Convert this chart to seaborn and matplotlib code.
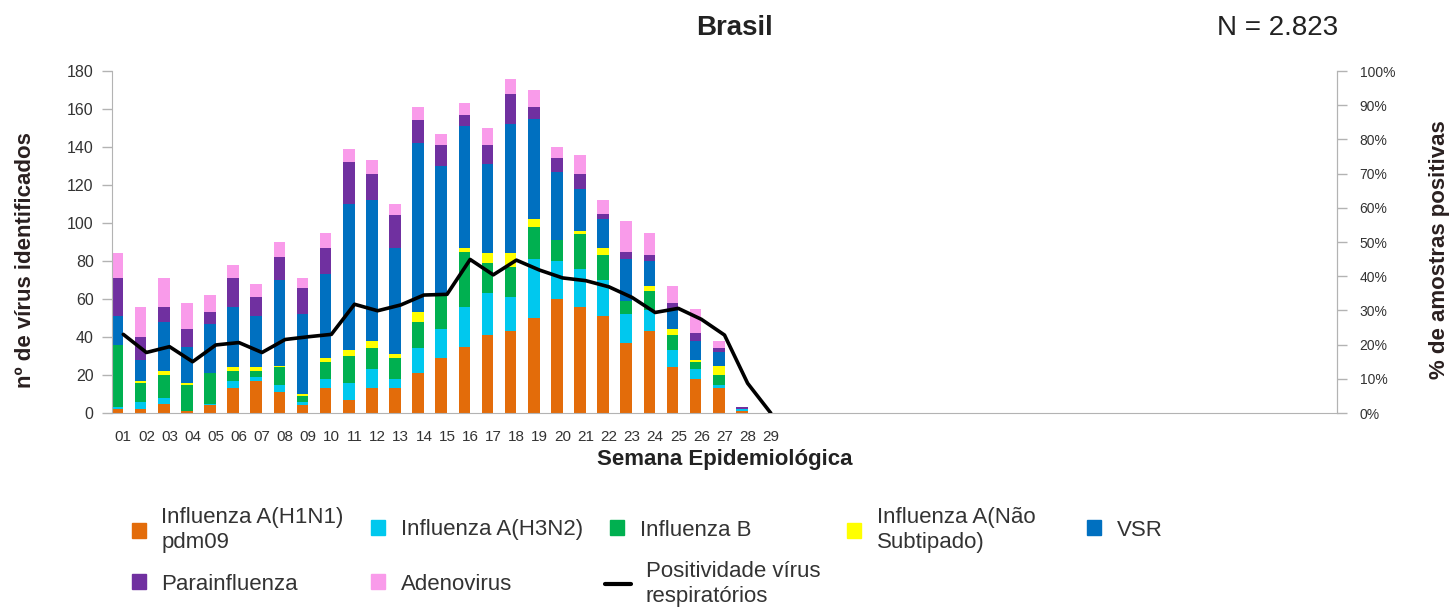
import numpy as np
import pandas as pd
import matplotlib
matplotlib.use("Agg")
import matplotlib.pyplot as plt
import seaborn as sns
from matplotlib.patches import Patch
from matplotlib.lines import Line2D
from matplotlib.ticker import FuncFormatter

# --- data (weeks 01-28 have bars, line runs to 29) ---
week_labels = ["01", "02", "03", "04", "05", "06", "07", "08", "09", "10",
               "11", "12", "13", "14", "15", "16", "17", "18", "19", "20",
               "21", "22", "23", "24", "25", "26", "27", "28", "29"]
n_weeks = 53

h1n1 = [2, 2, 5, 1, 4, 13, 17, 11, 4, 13, 7, 13, 13, 21, 29, 35, 41, 43, 50, 60,
        56, 51, 37, 43, 24, 18, 13, 1]
h3n2 = [1, 4, 3, 0, 1, 4, 2, 4, 2, 5, 9, 10, 5, 13, 15, 21, 22, 18, 31, 20,
        20, 19, 15, 11, 9, 5, 2, 1]
flu_b = [33, 10, 12, 14, 16, 5, 3, 9, 3, 9, 14, 11, 11, 14, 18, 29, 16, 16, 17, 11,
         18, 13, 7, 10, 8, 4, 5, 0]
nao_sub = [0, 1, 2, 1, 0, 2, 2, 1, 1, 2, 3, 4, 2, 5, 0, 2, 5, 7, 4, 0,
           2, 4, 0, 3, 3, 1, 5, 0]
vsr = [15, 11, 26, 19, 26, 32, 27, 45, 42, 44, 77, 74, 56, 89, 68, 64, 47, 68, 53, 36,
       22, 15, 22, 13, 10, 10, 7, 0]
para = [20, 12, 8, 9, 6, 15, 10, 12, 14, 14, 22, 14, 17, 12, 11, 6, 10, 16, 6, 7,
        8, 3, 4, 3, 4, 4, 2, 1]
adeno = [13, 16, 15, 14, 9, 7, 7, 8, 5, 8, 7, 7, 6, 7, 6, 6, 9, 8, 9, 6,
         10, 7, 16, 12, 9, 13, 4, 0]

positividade = [23, 17.7, 19.4, 15, 19.9, 20.6, 17.7, 21.5, 22.3, 23,
                31.8, 29.9, 31.6, 34.5, 34.7, 44.9, 40.4, 44.7, 41.8, 39.5,
                38.7, 36.9, 33.8, 29.4, 30.6, 27.4, 22.8, 8.7, 0]

series_names = ["Influenza A(H1N1)\npdm09", "Influenza A(H3N2)", "Influenza B",
                "Influenza A(Não\nSubtipado)", "VSR", "Parainfluenza", "Adenovirus"]
series_colors = ["#E36C0A", "#00C8EE", "#00B050", "#FFFF00", "#0070C0",
                 "#7030A0", "#F99BEA"]
line_label = "Positividade vírus\nrespiratórios"

sns.set_style("white")
plt.rcParams["font.family"] = ["Liberation Sans", "DejaVu Sans"]

df = pd.DataFrame({
    "pos": np.arange(len(h1n1)) - 0.25,
    "h1n1": h1n1, "h3n2": h3n2, "flu_b": flu_b, "nao_sub": nao_sub,
    "vsr": vsr, "para": para, "adeno": adeno,
})
cols = ["h1n1", "h3n2", "flu_b", "nao_sub", "vsr", "para", "adeno"]
cum = df[cols].cumsum(axis=1)
cum["pos"] = df["pos"]

fig = plt.figure(figsize=(14.49, 6.09), dpi=100)
ax = fig.add_axes([0.0771, 0.3218, 0.8458, 0.5616])

# stacked bars: draw tallest cumulative first, smaller layers on top
for col, color in reversed(list(zip(cols, series_colors))):
    sns.barplot(data=cum, x="pos", y=col, native_scale=True, orient="x",
                width=0.5, color=color, saturation=1, errorbar=None,
                linewidth=0, ax=ax)

ax.set_xlim(-0.5, n_weeks - 0.5)
ax.set_ylim(0, 180)
ax.set_yticks(range(0, 181, 20))
ax.set_xticks(np.arange(len(week_labels)))
ax.set_xticklabels(week_labels)
ax.set_xticks(np.arange(n_weeks - 1) + 0.5, minor=True)

grey = "#b3b3b3"
ax.tick_params(axis="x", which="major", length=0, pad=12,
               labelsize=11, labelcolor="#333333")
ax.tick_params(axis="x", which="minor", length=5, color=grey, width=1)
ax.tick_params(axis="y", length=7, color=grey, width=1, pad=6,
               labelsize=11.5, labelcolor="#333333")
for side in ["left", "bottom", "right"]:
    ax.spines[side].set_color(grey)
ax.spines["top"].set_visible(False)

ax.set_xlabel("Semana Epidemiológica", fontsize=16, fontweight="bold",
              color="#222222", va="top")
ax.xaxis.set_label_coords(0.5, -0.105)
ax.set_ylabel("nº de vírus identificados", fontsize=16, fontweight="bold",
              color="#2a2020", va="center")
ax.yaxis.set_label_coords(-0.0707, 0.447)

# positivity line on right axis
ax2 = ax.twinx()
sns.lineplot(x=np.arange(len(positividade)), y=positividade, ax=ax2,
             color="black", linewidth=2.6)
ax2.set_ylim(0, 100)
ax2.set_xlim(-0.5, n_weeks - 0.5)
ax2.set_yticks(range(0, 101, 10))
ax2.yaxis.set_major_formatter(FuncFormatter(lambda v, p: f"{v:.0f}%"))
ax2.tick_params(axis="y", length=7, color=grey, width=1, pad=9,
                labelsize=10, labelcolor="#333333")
ax2.spines["right"].set_color(grey)
ax2.spines["left"].set_visible(False)
ax2.spines["top"].set_visible(False)
ax2.spines["bottom"].set_visible(False)
ax2.set_ylabel("% de amostras positivas", fontsize=16, fontweight="bold",
               color="#2a2020", va="center", rotation=90)
ax2.yaxis.set_label_coords(1.0838, 0.477)

fig.text(734 / 1449, 1 - 28 / 609, "Brasil", fontsize=20, fontweight="bold",
         ha="center", va="center", color="#222222")
fig.text(1338 / 1449, 1 - 28 / 609, "N = 2.823", fontsize=20,
         ha="right", va="center", color="#222222")

# legend, one entry at a time to keep the grid of the reference
entries = [
    (Patch(color=series_colors[0]), series_names[0], 131.7, 530, 0.65),
    (Patch(color=series_colors[1]), series_names[1], 371, 530, 0.65),
    (Patch(color=series_colors[2]), series_names[2], 610, 530, 0.65),
    (Patch(color=series_colors[3]), series_names[3], 847, 530, 0.65),
    (Patch(color=series_colors[4]), series_names[4], 1087, 530, 0.65),
    (Patch(color=series_colors[5]), series_names[5], 131.7, 584, 0.65),
    (Patch(color=series_colors[6]), series_names[6], 371, 584, 0.65),
    (Line2D([], [], color="black", linewidth=3), line_label, 605, 584, 1.15),
]
for handle, label, px, py, hl in entries:
    fig.legend(handles=[handle], labels=[label], loc="center left",
               bbox_to_anchor=(px / 1449, 1 - py / 609), frameon=False,
               borderaxespad=0, borderpad=0, fontsize=16, handlelength=hl,
               handleheight=0.65, handletextpad=0.68,
               labelcolor="#333333")

fig.savefig("out.png", dpi=100)
